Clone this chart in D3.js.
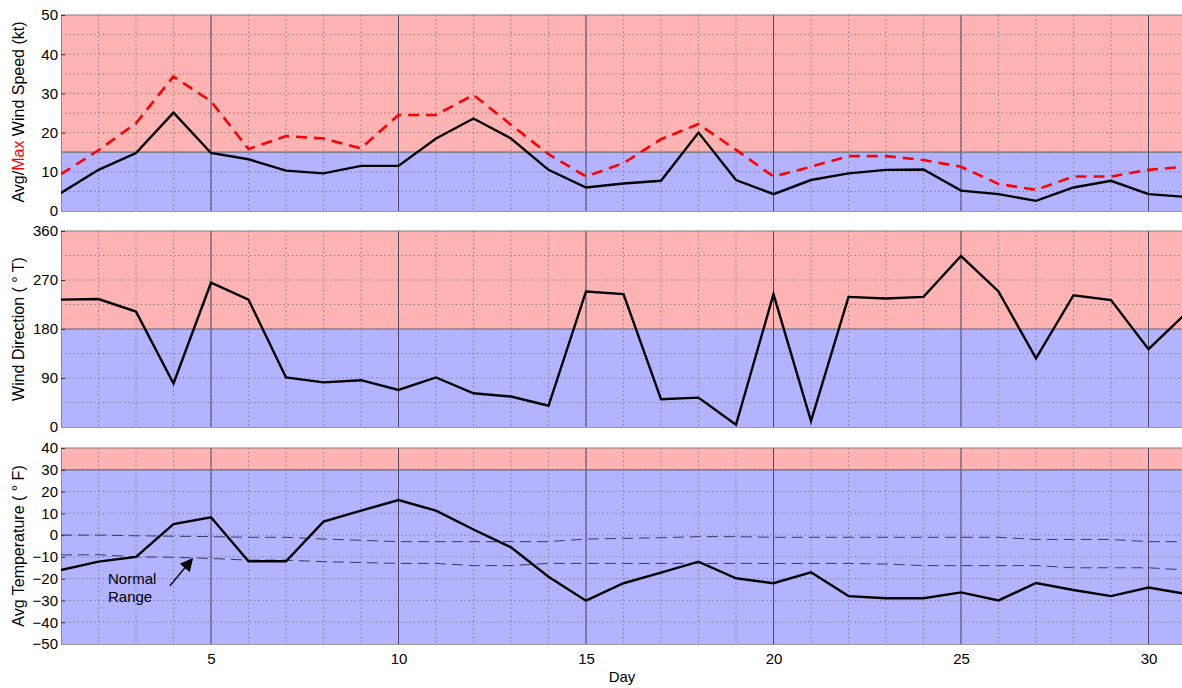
<!DOCTYPE html>
<html>
<head>
<meta charset="utf-8">
<script src="https://cdn.jsdelivr.net/npm/d3@7"></script>
<style>
  body { margin: 0; background: #fff; }
  svg { display: block; font-family: "Liberation Sans", Arial, sans-serif; }
  .tick text { font-size: 15px; fill: #000; }
</style>
</head>
<body>
<div id="chart"></div>
<script>
// data
var days = [1,2,3,4,5,6,7,8,9,10,11,12,13,14,15,16,17,18,19,20,21,22,23,24,25,26,27,28,29,30,31];
var avgWind = [4.6,10.5,14.8,25.1,14.8,13.2,10.3,9.6,11.5,11.5,18.5,23.6,18.5,10.5,6.0,7.0,7.7,20.0,7.9,4.3,7.9,9.6,10.5,10.6,5.2,4.3,2.6,6.0,7.7,4.3,3.6];
var maxWind = [9.4,15.5,22.4,34.3,28.0,15.8,19.1,18.5,16.0,24.5,24.5,29.6,22.0,14.5,8.8,12.2,18.3,22.2,15.6,8.8,11.3,14.0,14.0,13.0,11.3,6.9,5.4,8.8,8.8,10.5,11.3];
var windDir = [234,235,212,80,265,234,91,82,86,68,91,62,56,39,249,244,51,54,4,244,11,239,236,239,314,249,126,242,233,143,209];
var avgTemp = [-16,-12.2,-10,5.1,8.2,-12,-12,6.2,11.2,16.1,11.2,2.6,-5.6,-19.1,-30.1,-22.1,-17.2,-12.2,-19.8,-22.1,-17.1,-28,-29,-29,-26.3,-30,-22,-25.2,-28,-24.1,-27];
var normHigh = [0,0,-0.3,-0.5,-0.7,-1,-1,-1.8,-2.4,-3,-3,-3,-3,-3,-1.8,-1.5,-1.2,-0.7,-0.7,-1,-1,-1,-1,-1,-1,-1,-2,-2,-2,-3,-3];
var normLow = [-9.1,-9,-10,-10.2,-10.7,-11.5,-11.5,-12.2,-12.6,-13,-13,-14,-14,-13,-13,-13,-13,-13,-13,-13,-13,-13,-13.3,-14,-14,-14,-14,-15,-15,-15,-16];

var speedTicks = [0,10,20,30,40,50];
var dirTicks = [0,90,180,270,360];
var tempTicks = [-50,-40,-30,-20,-10,0,10,20,30,40];
var dayLabels = [5,10,15,20,25,30];

var W = 1182, H = 688;
var left = 61, right = 1186;

var svg = d3.select("#chart").append("svg")
    .attr("width", W).attr("height", H);

svg.append("defs").append("clipPath").attr("id", "plotclip")
  .append("rect").attr("x", left).attr("y", 0).attr("width", W - left).attr("height", H);

svg.select("defs").append("marker")
    .attr("id", "arrow").attr("viewBox", "0 0 10 10")
    .attr("refX", 9).attr("refY", 5)
    .attr("markerWidth", 15).attr("markerHeight", 13)
    .attr("markerUnits", "userSpaceOnUse")
    .attr("orient", "auto")
  .append("path").attr("d", "M0,0 L10,5 L0,10 z").attr("fill", "#000");

var x = d3.scaleLinear().domain([1, 31]).range([left, right]);

var panels = [
  {top: 15, bottom: 211, domain: [0, 50], split: 15, ticks: speedTicks, grid: d3.range(5, 50, 5)},
  {top: 231, bottom: 427, domain: [0, 360], split: 180, ticks: dirTicks, grid: d3.range(45, 360, 45)},
  {top: 448, bottom: 644, domain: [-50, 40], split: 30, ticks: tempTicks, grid: d3.range(-40, 40, 10)}
];

panels.forEach(function(p, i) {
  p.y = d3.scaleLinear().domain(p.domain).range([p.bottom, p.top]);
  var g = svg.append("g").attr("clip-path", "url(#plotclip)");

  // red (above) and blue (below) zones
  g.append("rect")
    .attr("x", left).attr("y", p.top)
    .attr("width", right - left).attr("height", p.y(p.split) - p.top)
    .attr("fill", "#ffb3b3");
  g.append("rect")
    .attr("x", left).attr("y", p.y(p.split))
    .attr("width", right - left).attr("height", p.bottom - p.y(p.split))
    .attr("fill", "#b3b3ff");

  // dotted grid
  g.selectAll(".vgrid").data(days.slice(1)).enter().append("line")
    .attr("x1", function(d) { return x(d); }).attr("x2", function(d) { return x(d); })
    .attr("y1", p.top).attr("y2", p.bottom)
    .attr("stroke", "#555").attr("stroke-opacity", 0.7)
    .attr("stroke-width", 1).attr("stroke-dasharray", "1.2,3");
  g.selectAll(".hgrid").data(p.grid).enter().append("line")
    .attr("x1", left).attr("x2", right)
    .attr("y1", function(d) { return p.y(d); }).attr("y2", function(d) { return p.y(d); })
    .attr("stroke", "#555").attr("stroke-opacity", 0.7)
    .attr("stroke-width", 1).attr("stroke-dasharray", "1.2,3");

  // solid lines every 5 days
  g.selectAll(".major").data(dayLabels).enter().append("line")
    .attr("x1", function(d) { return x(d); }).attr("x2", function(d) { return x(d); })
    .attr("y1", p.top).attr("y2", p.bottom)
    .attr("stroke", "#4a4a66").attr("stroke-width", 1);

  // boundary between zones
  g.append("line")
    .attr("x1", left).attr("x2", right)
    .attr("y1", p.y(p.split)).attr("y2", p.y(p.split))
    .attr("stroke", "#6e6e80").attr("stroke-width", 1.2);

  // frame
  g.append("line").attr("x1", left).attr("x2", right).attr("y1", p.top).attr("y2", p.top)
    .attr("stroke", "#8a7a7a").attr("stroke-width", 1);

  // axes with inward ticks
  var ya = svg.append("g").attr("transform", "translate(" + left + ",0)")
    .call(d3.axisLeft(p.y).tickValues(p.ticks).tickSize(-4).tickPadding(3));
  ya.select(".domain").attr("stroke", "#888");
  ya.selectAll(".tick line").attr("stroke", "#333");

  var xa = svg.append("g").attr("transform", "translate(0," + p.bottom + ")")
    .attr("clip-path", "url(#plotclip)")
    .call(d3.axisBottom(x).tickValues(days.slice(1)).tickSize(-5).tickPadding(9)
      .tickFormat(function(d) { return (i === 2 && d % 5 === 0) ? d : ""; }));
  xa.select(".domain").attr("stroke", "#999").attr("stroke-width", 1.2);
  xa.selectAll(".tick line").attr("stroke", "#333");
});

var line = function(p, vals) {
  return d3.line().x(function(d, k) { return x(days[k]); }).y(function(d) { return p.y(d); })(vals);
};

var plot = svg.append("g").attr("clip-path", "url(#plotclip)");

// panel 1: wind speed
plot.append("path").attr("d", line(panels[0], maxWind))
  .attr("fill", "none").attr("stroke", "#ff0000").attr("stroke-width", 2.6)
  .attr("stroke-dasharray", "11,7");
plot.append("path").attr("d", line(panels[0], avgWind))
  .attr("fill", "none").attr("stroke", "#000").attr("stroke-width", 2.4);

// panel 2: wind direction
plot.append("path").attr("d", line(panels[1], windDir))
  .attr("fill", "none").attr("stroke", "#000").attr("stroke-width", 2.4);

// panel 3: temperature with normal range
[normHigh, normLow].forEach(function(v) {
  plot.append("path").attr("d", line(panels[2], v))
    .attr("fill", "none").attr("stroke", "#3a3a5a").attr("stroke-width", 1)
    .attr("stroke-dasharray", "11,6");
});
plot.append("path").attr("d", line(panels[2], avgTemp))
  .attr("fill", "none").attr("stroke", "#000").attr("stroke-width", 2.4);

// normal range annotation
svg.append("text").attr("x", 108).attr("y", 584).attr("font-size", 15).text("Normal");
svg.append("text").attr("x", 108).attr("y", 602).attr("font-size", 15).text("Range");
svg.append("line")
  .attr("x1", x(3.9)).attr("y1", 586)
  .attr("x2", x(4.5)).attr("y2", 559)
  .attr("stroke", "#000").attr("stroke-width", 1.3)
  .attr("marker-end", "url(#arrow)");

// y axis titles
function yTitle(cy, parts) {
  var t = svg.append("text")
    .attr("transform", "translate(24," + cy + ") rotate(-90)")
    .attr("text-anchor", "middle").attr("font-size", 16);
  parts.forEach(function(s) {
    t.append("tspan").attr("fill", s[1]).text(s[0]);
  });
}
yTitle(112, [["Avg/", "#000"], ["Max", "#ff0000"], [" Wind Speed (kt)", "#000"]]);
yTitle(329, [["Wind Direction ( \u00b0 T)", "#000"]]);
yTitle(546, [["Avg Temperature ( \u00b0 F)", "#000"]]);

// x title
svg.append("text").attr("x", 622).attr("y", 682)
  .attr("text-anchor", "middle").attr("font-size", 15).text("Day");
</script>
</body>
</html>
